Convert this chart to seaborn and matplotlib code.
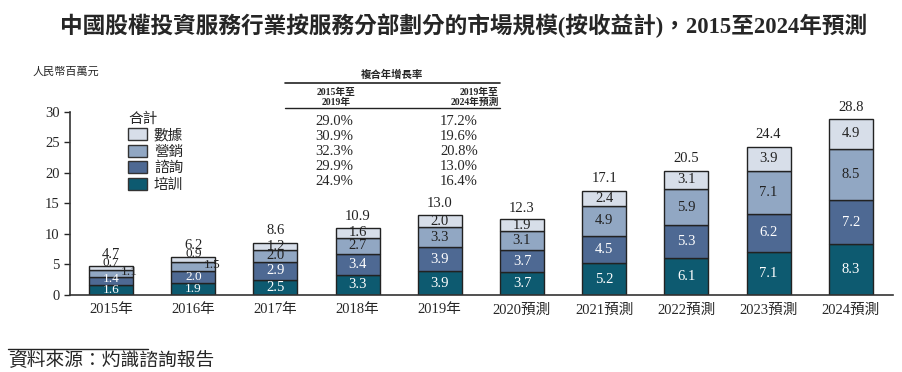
import numpy as np
import matplotlib.pyplot as plt
import seaborn as sns
import pandas as pd
from matplotlib.patches import Patch

# 數據
years = ["2015年", "2016年", "2017年", "2018年", "2019年",
         "2020預測", "2021預測", "2022預測", "2023預測", "2024預測"]
peixun = [1.6, 1.9, 2.5, 3.3, 3.9, 3.7, 5.2, 6.1, 7.1, 8.3]     # 培訓
zixun = [1.4, 2.0, 2.9, 3.4, 3.9, 3.7, 4.5, 5.3, 6.2, 7.2]      # 諮詢
yingxiao = [1.1, 1.5, 2.0, 2.7, 3.3, 3.1, 4.9, 5.9, 7.1, 8.5]   # 營銷
shuju = [0.7, 0.9, 1.2, 1.6, 2.0, 1.9, 2.4, 3.1, 3.9, 4.9]      # 數據
totals = [4.7, 6.2, 8.6, 10.9, 13.0, 12.3, 17.1, 20.5, 24.4, 28.8]

segment_names = ["培訓", "諮詢", "營銷", "數據"]
cagr_1519 = ["29.0%", "30.9%", "32.3%", "29.9%", "24.9%"]
cagr_1924 = ["17.2%", "19.6%", "20.8%", "13.0%", "16.4%"]

colors = ["#0d5a70", "#4e6993", "#91a7c3", "#d7dee9"]
label_colors = ["white", "white", "#222222", "#222222"]

sns.set_style("ticks")
plt.rcParams['font.family'] = ['Liberation Serif', 'Noto Sans CJK TC']

df = pd.DataFrame({"year": years, "培訓": peixun, "諮詢": zixun,
                   "營銷": yingxiao, "數據": shuju})

fig = plt.figure(figsize=(9.02, 3.72), dpi=100)
ax = fig.add_axes([0.0776, 0.207, 0.912, 0.492])

bottom = np.zeros(len(years))
for name, c in zip(segment_names, colors):
    sns.barplot(data=df, x="year", y=name, bottom=bottom, color=c,
                width=0.535, edgecolor="#222222", linewidth=1.0,
                saturation=1, ax=ax)
    bottom = bottom + df[name].values

# 柱內數字 (2015/2016 幾個小段的標籤位置偏移, 同原圖一樣擠在一起)
offsets = {(0, 0): (0, 0.1), (0, 1): (0, 0.25), (0, 2): (0.22, 0.25),
           (0, 3): (0, 0.8), (1, 2): (0.23, 0.25), (1, 3): (0, 0.8)}
bottom = np.zeros(len(years))
for j, name in enumerate(segment_names):
    vals = df[name].values
    for i, v in enumerate(vals):
        dx, dy = offsets.get((i, j), (0, 0))
        fs = 9.5 if i < 2 else 10.5
        ax.text(i + dx, bottom[i] + v / 2 + dy, f"{v:.1f}", ha="center",
                va="center", fontsize=fs, color=label_colors[j])
    bottom = bottom + vals
for i, t in enumerate(totals):
    ax.text(i, t + 1.95, f"{t:.1f}", ha="center", va="center", fontsize=10.5,
            color="#222222")

ax.set_xlim(-0.5, 9.51)
ax.set_ylim(0, 30)
ax.set_yticks(range(0, 31, 5))
ax.set_xlabel("")
ax.set_ylabel("")
ax.tick_params(axis="x", length=0, labelsize=10.5, pad=6)
ax.tick_params(axis="y", length=4, labelsize=10.5, direction="out", width=1)
sns.despine(ax=ax)
for s in ["left", "bottom"]:
    ax.spines[s].set_color("#333333")
    ax.spines[s].set_linewidth(1.2)

# 圖例
handles = [Patch(facecolor=c, edgecolor="#333333", label=n)
           for n, c in zip(segment_names[::-1], colors[::-1])]
leg = ax.legend(handles=handles, title="合計", loc="upper left",
                bbox_to_anchor=(0.071, 0.998), frameon=False, fontsize=10.5,
                title_fontsize=10.5, handlelength=1.3, handleheight=0.85,
                labelspacing=0.18, handletextpad=0.45, borderaxespad=0,
                borderpad=0)
leg._legend_box.align = "left"

# 複合年增長率表
fig.text(392 / 902, 1 - 75 / 372, "複合年增長率", ha="center", va="center",
         fontsize=7.5, fontweight="bold")
fig.add_artist(plt.Line2D([285 / 902, 500 / 902], [1 - 83 / 372] * 2,
                          color="#222222", lw=1.2))
fig.add_artist(plt.Line2D([285 / 902, 500 / 902], [1 - 108 / 372] * 2,
                          color="#222222", lw=1.0))
fig.text(336 / 902, 1 - 97 / 372, "2015年至\n2019年", ha="center",
         va="center", fontsize=7, fontweight="bold", linespacing=1.1)
fig.text(499 / 902, 1 - 97 / 372, "2019年至\n2024年預測", ha="right",
         va="center", fontsize=7, fontweight="bold", linespacing=1.1,
         multialignment="right")
for k in range(5):
    y = 1 - (122 + k * 14.9) / 372
    fig.text(315 / 902, y, cagr_1519[k], ha="left", va="center", fontsize=10.5)
    fig.text(440 / 902, y, cagr_1924[k], ha="left", va="center", fontsize=10.5)

# 標題、單位、來源
fig.text(464 / 902, 1 - 26 / 372,
         "中國股權投資服務行業按服務分部劃分的市場規模(按收益計)，2015至2024年預測",
         ha="center", va="center", fontsize=16.3, fontweight="bold")
fig.text(33 / 902, 1 - 72 / 372, "人民幣百萬元", ha="left", va="center",
         fontsize=8, style="italic")
fig.add_artist(plt.Line2D([8 / 902, 148 / 902], [1 - 349 / 372] * 2,
                          color="#222222", lw=1.0))
fig.text(8 / 902, 1 - 361 / 372, "資料來源：灼識諮詢報告", ha="left",
         va="center", fontsize=13.5, style="italic")

plt.savefig("out.png", dpi=100)
